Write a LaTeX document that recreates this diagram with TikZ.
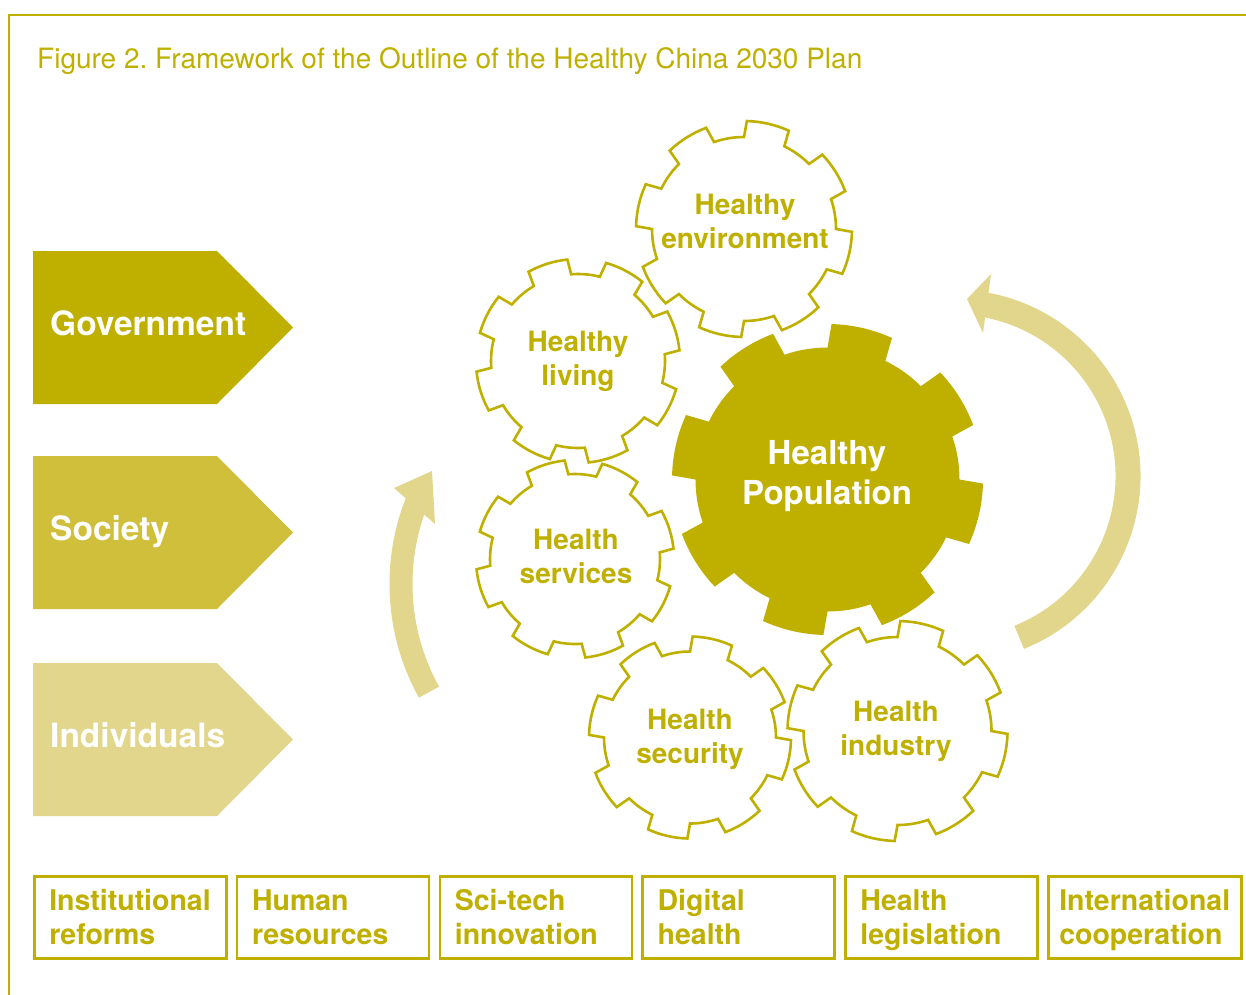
\documentclass[tikz,border=0pt]{standalone}
\usepackage{fontspec}
\setmainfont{TeX Gyre Heros}
\definecolor{hcgold}{RGB}{191,176,0}
\definecolor{hcmid}{RGB}{208,191,58}
\definecolor{hclight}{RGB}{225,214,139}

% #1 options, #2 #3 centre, #4 tip radius, #5 root radius, #6 first tooth
\newcommand{\gear}[6][]{%
  \path[#1, shift={(#2,#3)}] (#6-13:#5)
    \foreach \j [evaluate=\j as \ta using #6+45*\j] in {0,...,7}{
      -- (\ta-13:#5) -- (\ta-11.5:#4)
      arc[start angle=\ta-11.5, end angle=\ta+11.5, radius=#4]
      -- (\ta+13:#5)
      arc[start angle=\ta+13, end angle=\ta+32, radius=#5]
    } -- cycle;
}

\tikzset{
  rim/.style={draw=hcgold, line width=2.6pt},
  cog/.style={text=hcgold, font=\bfseries\fontsize{28}{34}\selectfont, align=center, inner sep=0pt},
  actor/.style={text=white, font=\bfseries\fontsize{33.5}{40}\selectfont, inner sep=0pt, anchor=base west},
  pillar/.style={draw=hcgold, line width=2.5pt, text=hcgold, font=\bfseries\fontsize{28.5}{34}\selectfont,
    minimum height=82pt, align=left, anchor=north west},
  loose/.style={text width=162pt, inner xsep=15pt},
  snug/.style={text width=171pt, inner xsep=11pt},
  sweep/.style={draw=hclight},
}

\begin{document}
\begin{tikzpicture}[x=1pt, y=-1pt]
\useasboundingbox (0,0) rectangle (1246,994);
\draw[hcgold, line width=2pt] (9,1000) -- (9,15) -- (1250,15);
\node[text=hcgold, font=\fontsize{28}{34}\selectfont, anchor=base west, inner sep=0pt] (title) at (37,68)
  {Figure 2.\ Framework of the Outline of the Healthy China 2030 Plan};

\foreach \y/\col/\lab/\n in {251/hcgold/Government/gov, 456/hcmid/Society/soc, 663/hclight/Individuals/ind}{
  \fill[\col] (33,\y) -- (217,\y) -- (293,\y+76.5) -- (217,\y+153) -- (33,\y+153) -- cycle;
  \node[actor] (\n) at (50,\y+84) {\lab};
}

\coordinate (lhub) at (624,584);
\coordinate (rhub) at (954,476);
\draw[sweep, line width=23pt] (lhub) ++(151:223) arc[start angle=151, end angle=202, radius=223];
\fill[hclight] (432,471) -- (394,488) -- (435,524) -- cycle;
\draw[sweep, line width=25pt] (rhub) ++(68:174) arc[start angle=68, end angle=-80, radius=174];
\fill[hclight] (967,299) -- (991,274) -- (983,333) -- cycle;

\gear[fill=hcgold]{827.5}{479.5}{155.5}{132}{-77}
\gear[rim]{744}{229}{108}{92}{-77}
\gear[rim]{578}{361}{102}{87}{-62.5}
\gear[rim]{575}{559}{99}{85}{-62.5}
\gear[rim]{690}{737.5}{101}{86}{-77}
\gear[rim]{897.5}{731}{110}{94}{-77}

\node[cog, text=white, font=\bfseries\fontsize{33}{40}\selectfont] (pop) at (827,476) {Healthy\\Population};
\node[cog] (env) at (745,221.5) {Healthy\\environment};
\node[cog] (liv) at (578,361.5) {Healthy\\living};
\node[cog] (srv) at (576,556.5) {Health\\services};
\node[cog] (sec) at (690,739.5) {Health\\security};
\node[cog] (indu) at (896,731.5) {Health\\industry};

\foreach \lab/\pad [count=\i from 0] in {{Institutional\\reforms}/loose, {Human\\resources}/loose,
    {Sci-tech\\innovation}/loose, {Digital\\health}/loose, {Health\\legislation}/loose,
    {International\\cooperation}/snug}{
  \node[pillar, \pad] (lever\i) at (33+202.8*\i,875) {\rule{0pt}{0.94em}\lab\vphantom{g}};
}
\end{tikzpicture}
\end{document}
